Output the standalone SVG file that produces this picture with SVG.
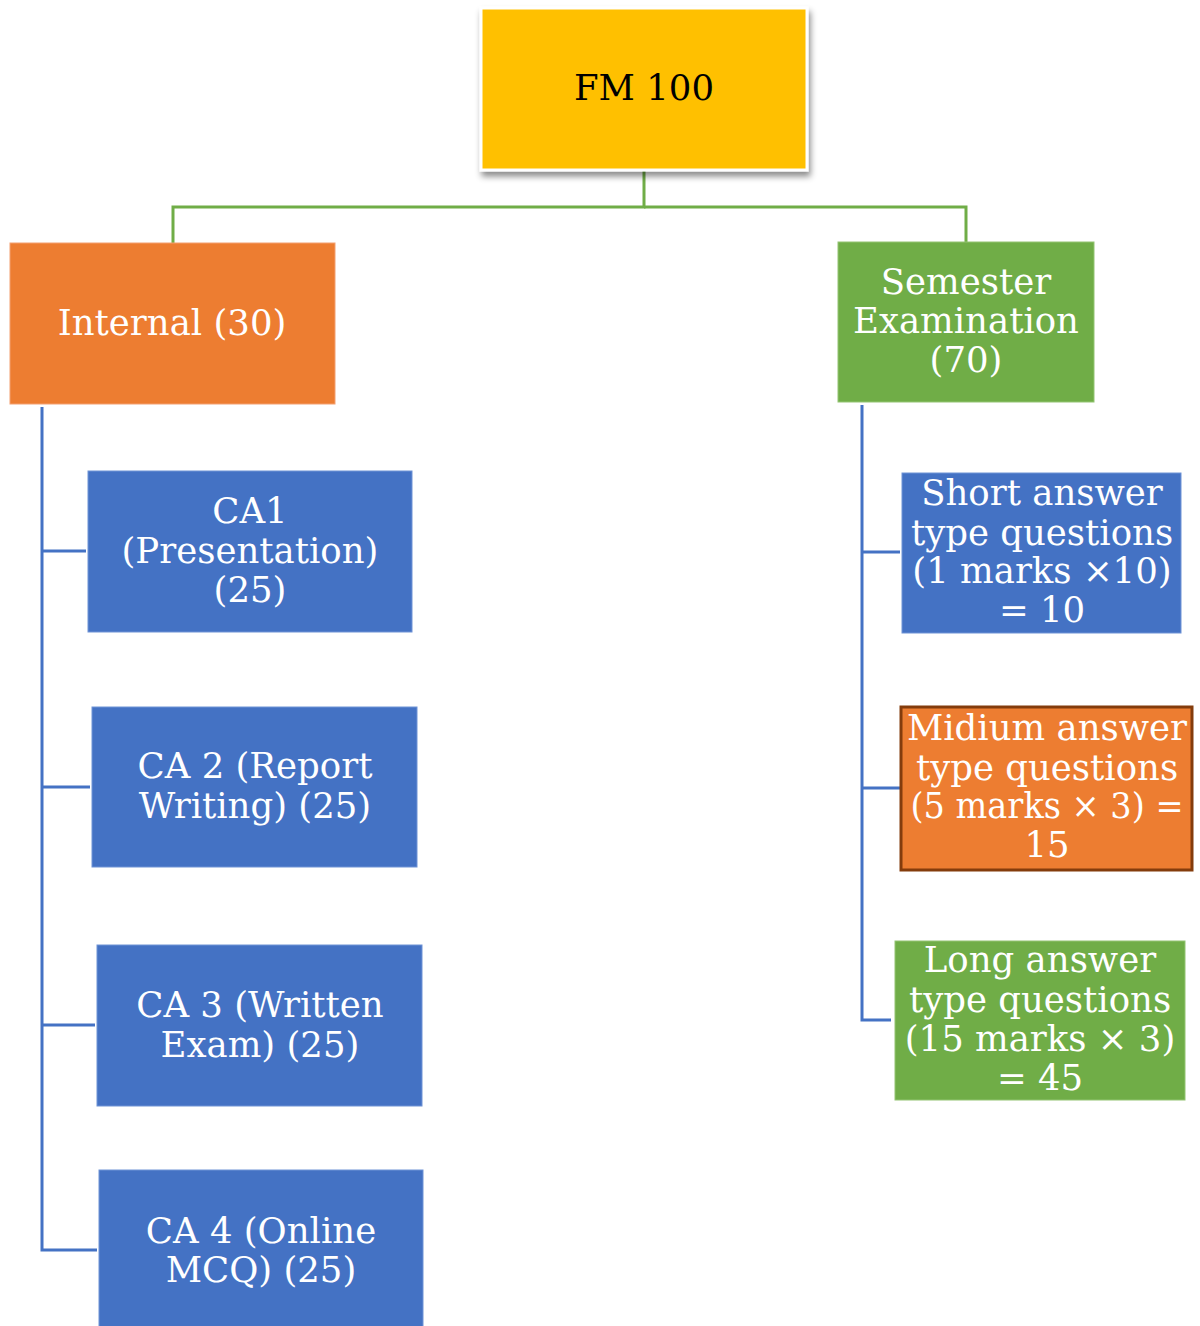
<svg xmlns="http://www.w3.org/2000/svg" width="1200" height="1326" viewBox="0 0 1200 1326">
<defs>
<filter id="sh" x="-10%" y="-10%" width="130%" height="140%">
<feDropShadow dx="2" dy="5" stdDeviation="3" flood-color="#000" flood-opacity="0.45"/>
</filter>
</defs>
<style>
text{font-family:"DejaVu Serif","Liberation Serif",serif;font-size:35.5px;text-anchor:middle;fill:#fff}
.blue{fill:#4472C4;stroke:#6f93d6;stroke-width:1}
.orange{fill:#ED7D31;stroke:#f3a070;stroke-width:1}
.green{fill:#70AD47;stroke:#93c473;stroke-width:1}
.cg{fill:none;stroke:#70AD47;stroke-width:3}
.cb{fill:none;stroke:#4472C4;stroke-width:3}
</style>
<rect width="1200" height="1326" fill="#fff"/>
<g id="connectors">
<path class="cg" d="M644 170 V207 H173 V243"/>
<path class="cg" d="M644 207 H966 V242"/>
<path class="cb" d="M42 407 V1250 H97"/>
<path class="cb" d="M42 551 H86 M42 787 H90 M42 1025 H95"/>
<path class="cb" d="M862 405 V1020 H891"/>
<path class="cb" d="M862 552 H900 M862 788 H900"/>
</g>
<g id="fm100">
<rect x="481" y="8" width="326" height="162" fill="#FFC000" stroke="#fff" stroke-width="3" filter="url(#sh)"/>
<text x="644" y="100" style="fill:#000">FM 100</text>
</g>
<g id="internal">
<rect class="orange" x="10" y="243" width="325" height="161"/>
<text x="172" y="335">Internal (30)</text>
</g>
<g id="semester">
<rect class="green" x="838" y="242" width="256" height="160"/>
<text x="966" y="294">Semester</text>
<text x="966" y="333">Examination</text>
<text x="966" y="372">(70)</text>
</g>
<g id="ca1">
<rect class="blue" x="88" y="471" width="324" height="161"/>
<text x="250" y="523">CA1</text>
<text x="250" y="563">(Presentation)</text>
<text x="250" y="602">(25)</text>
</g>
<g id="ca2">
<rect class="blue" x="92" y="707" width="325" height="160"/>
<text x="255" y="778">CA 2 (Report</text>
<text x="255" y="818">Writing) (25)</text>
</g>
<g id="ca3">
<rect class="blue" x="97" y="945" width="325" height="161"/>
<text x="260" y="1017">CA 3 (Written</text>
<text x="260" y="1057">Exam) (25)</text>
</g>
<g id="ca4">
<rect class="blue" x="99" y="1170" width="324" height="160"/>
<text x="261" y="1243">CA 4 (Online</text>
<text x="261" y="1282">MCQ) (25)</text>
</g>
<g id="short">
<rect class="blue" x="902" y="473" width="279" height="160"/>
<text x="1042" y="505">Short answer</text>
<text x="1042" y="545">type questions</text>
<text x="1042" y="583">(1 marks ×10)</text>
<text x="1042" y="622">= 10</text>
</g>
<g id="midium">
<rect x="901" y="707" width="291" height="163" fill="#ED7D31" stroke="#843C0C" stroke-width="3"/>
<text x="1047" y="740">Midium answer</text>
<text x="1047" y="780">type questions</text>
<text x="1047" y="818" textLength="273" lengthAdjust="spacingAndGlyphs">(5 marks × 3) =</text>
<text x="1047" y="857">15</text>
</g>
<g id="long">
<rect class="green" x="895" y="941" width="290" height="159"/>
<text x="1040" y="972">Long answer</text>
<text x="1040" y="1012">type questions</text>
<text x="1040" y="1051">(15 marks × 3)</text>
<text x="1040" y="1090">= 45</text>
</g>
</svg>
